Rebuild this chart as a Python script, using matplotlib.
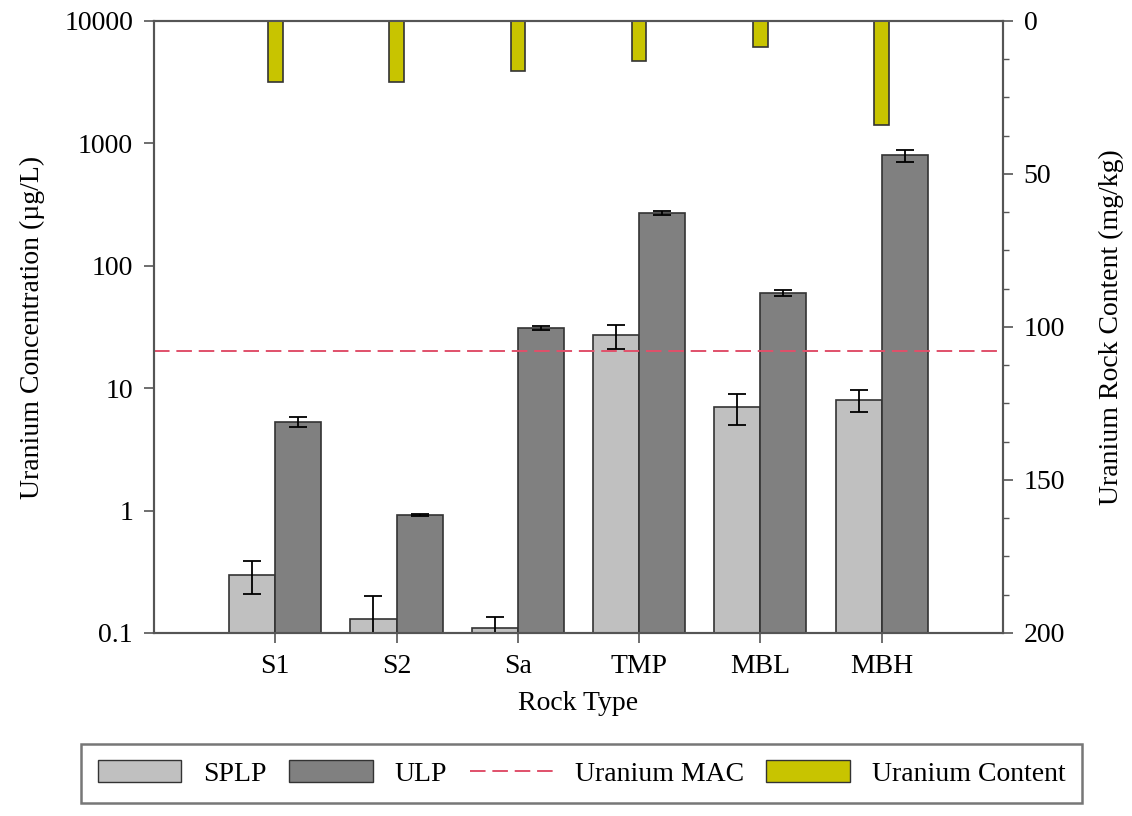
import numpy as np
import matplotlib
matplotlib.use("Agg")
import matplotlib.pyplot as plt
from matplotlib.patches import Patch
from matplotlib.lines import Line2D
from matplotlib.ticker import FixedLocator, FixedFormatter, MultipleLocator, NullLocator

plt.rcParams['font.family'] = ['Liberation Serif', 'DejaVu Serif']
plt.rcParams['font.size'] = 20

rocks = ['S1', 'S2', 'Sa', 'TMP', 'MBL', 'MBH']
splp = [0.30, 0.13, 0.11, 27, 7.0, 8.0]
splp_err = [0.09, 0.07, 0.025, 6, 2.0, 1.6]
ulp = [5.3, 0.92, 31, 272, 60, 800]
ulp_err = [0.5, 0.02, 1.0, 10, 3, 90]
u_content = [20, 20, 16.5, 13, 8.4, 34]
mac = 20

x = np.arange(1, len(rocks) + 1)
w = 0.38

fig = plt.figure(figsize=(11.32, 8.16), dpi=100)
ax = fig.add_axes([0.136, 0.2243, 0.75, 0.75])

edge = '#333333'
ekw = dict(ecolor='black', elinewidth=1.3, capthick=1.3)
ax.bar(x - w / 2, splp, w, color='#c0c0c0', edgecolor=edge, linewidth=1.2,
       yerr=splp_err, capsize=6.5, error_kw=ekw)
ax.bar(x + w / 2, ulp, w, color='#808080', edgecolor=edge, linewidth=1.2,
       yerr=ulp_err, capsize=6.5, error_kw=ekw)
ax.axhline(mac, color='#e0506a', linestyle=(0, (8, 3.5)), linewidth=1.4)

ax.set_yscale('log')
ax.set_ylim(0.1, 10000)
ax.set_xlim(0, 7)
yt = [0.1, 1, 10, 100, 1000, 10000]
ax.yaxis.set_major_locator(FixedLocator(yt))
ax.yaxis.set_major_formatter(FixedFormatter(['0.1', '1', '10', '100', '1000', '10000']))
ax.yaxis.set_minor_locator(NullLocator())
ax.set_xticks(x)
ax.set_xticklabels(rocks)
ax.set_ylabel('Uranium Concentration (µg/L)', labelpad=14)
ax.set_xlabel('Rock Type', labelpad=9)
ax.tick_params(direction='out', length=7, width=1.2, color='#555555', pad=8)

ax2 = ax.twinx()
ax2.bar(x, u_content, 0.12, color='#c8c400', edgecolor=edge, linewidth=1.2)
ax2.set_ylim(200, 0)
ax2.yaxis.set_major_locator(MultipleLocator(50))
ax2.yaxis.set_minor_locator(MultipleLocator(12.5))
ax2.tick_params(which='major', direction='out', length=7, width=1.2, color='#555555', pad=8)
ax2.tick_params(which='minor', direction='out', length=4, width=1.0, color='#555555')
ax2.set_ylabel('Uranium Rock Content (mg/kg)', labelpad=24)

for a in (ax, ax2):
    for s in a.spines.values():
        s.set_color('#555555')
        s.set_linewidth(1.5)

handles = [Patch(facecolor='#c0c0c0', edgecolor=edge, label='SPLP'),
           Patch(facecolor='#808080', edgecolor=edge, label='ULP'),
           Line2D([], [], color='#e0506a', linestyle=(0, (8, 3.5)), linewidth=1.4, label='Uranium MAC'),
           Patch(facecolor='#c8c400', edgecolor=edge, label='Uranium Content')]
leg = fig.legend(handles=handles, loc='center', bbox_to_anchor=(0.514, 0.052), ncol=4,
                 frameon=True, fancybox=False, handlelength=3.0, handleheight=0.8,
                 handletextpad=0.8, columnspacing=0.8, borderpad=0.6)
leg.get_frame().set_edgecolor('#555555')
leg.get_frame().set_linewidth(1.8)

fig.savefig('out.png', dpi=100)
